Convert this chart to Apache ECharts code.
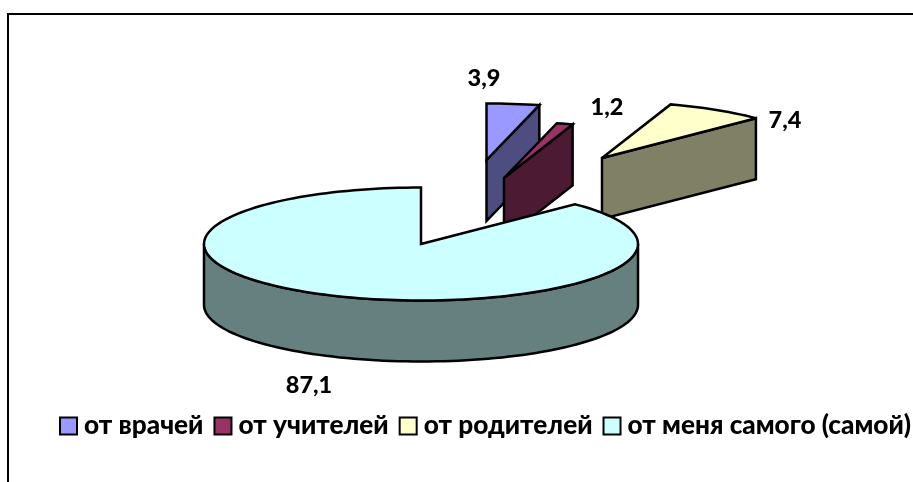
<!DOCTYPE html>
<html>
<head>
<meta charset="utf-8">
<style>html,body{margin:0;padding:0;background:#fff}#c{width:913px;height:482px}</style>
<script src="https://cdn.jsdelivr.net/npm/echarts@6/dist/echarts.min.js"></script>
</head>
<body>
<div id="c"></div>
<script>
const categories = ['от врачей', 'от учителей', 'от родителей', 'от меня самого (самой)'];
const values = [3.9, 1.2, 7.4, 87.1];
const topColors = ['#9999FF', '#993366', '#FFFFCC', '#CCFFFF'];
const sideColors = ['#4D4D80', '#4D1A33', '#808066', '#668080'];

// Projection of the tilted pie and per-slice layout (style only, no data)
const RX = 217, RY = 56.5, DEPTH = 61;
const apexes = [[486.5, 160], [504, 178], [602, 158], [421, 244]];
const labelPos = [[484, 78], [607, 107], [785, 120], [309, 385]];
const FAMILY = 'Lato, "Noto Sans", sans-serif';
const LABEL_SIZE = 23.5, LEGEND_SIZE = 26.2;

const total = values.reduce((a, b) => a + b, 0);
function range(i) {
  let s = 0;
  for (let k = 0; k < i; k++) s += values[k];
  return [s / total * 360, (s + values[i]) / total * 360];
}
function pt(c, deg, dy) {
  const r = deg * Math.PI / 180;
  return [c[0] + RX * Math.sin(r), c[1] - RY * Math.cos(r) + (dy || 0)];
}
function arc(c, a, b, dy) {
  const n = Math.max(2, Math.ceil(Math.abs(b - a) / 2)), out = [];
  for (let k = 0; k <= n; k++) out.push(pt(c, a + (b - a) * k / n, dy));
  return out;
}
function face(points, fill) {
  return {
    type: 'polygon',
    shape: { points },
    style: { fill, stroke: '#000', lineWidth: 2.5, lineJoin: 'miter', miterLimit: 4 }
  };
}
function makeRender(i) {
  return function () {
    const [a, b] = range(i), c = apexes[i], kids = [];
    if (b < 180) {
      const e = pt(c, b);
      kids.push(face([c, e, [e[0], e[1] + DEPTH], [c[0], c[1] + DEPTH]], sideColors[i]));
    }
    const fa = Math.max(a, 90), fb = Math.min(b, 270);
    if (fb > fa) {
      kids.push(face(arc(c, fa, fb, 0).concat(arc(c, fb, fa, DEPTH)), sideColors[i]));
    }
    kids.push(face([c].concat(arc(c, a, b, 0)), topColors[i]));
    kids.push({
      type: 'text',
      style: {
        text: String(values[i]).replace('.', ','),
        x: labelPos[i][0], y: labelPos[i][1],
        align: 'center', verticalAlign: 'middle',
        fontFamily: FAMILY, fontWeight: 900, fontSize: LABEL_SIZE, fill: '#000'
      }
    });
    return { type: 'group', children: kids };
  };
}

const chart = echarts.init(document.getElementById('c'), null, { renderer: 'canvas' });
chart.setOption({
  animation: false,
  backgroundColor: '#fff',
  graphic: [{
    type: 'rect', silent: true, z: -10,
    shape: { x: 8, y: 14, width: 1200, height: 900 },
    style: { fill: 'none', stroke: '#000', lineWidth: 2 }
  }],
  legend: {
    left: 59, top: 413, width: 1100, orient: 'horizontal',
    itemWidth: 17, itemHeight: 17, itemGap: 10,
    padding: 0, type: 'plain',
    selectedMode: false, icon: 'rect',
    itemStyle: { borderColor: '#000', borderWidth: 2 },
    textStyle: { fontFamily: FAMILY, fontWeight: 900, fontSize: LEGEND_SIZE, color: '#000', padding: [0, 0, 0, 2] },
    data: categories
  },
  series: categories.map((name, i) => ({
    type: 'custom', name, coordinateSystem: 'none', silent: true,
    itemStyle: { color: topColors[i] },
    renderItem: makeRender(i),
    data: [[values[i]]]
  }))
});
</script>
</body>
</html>
